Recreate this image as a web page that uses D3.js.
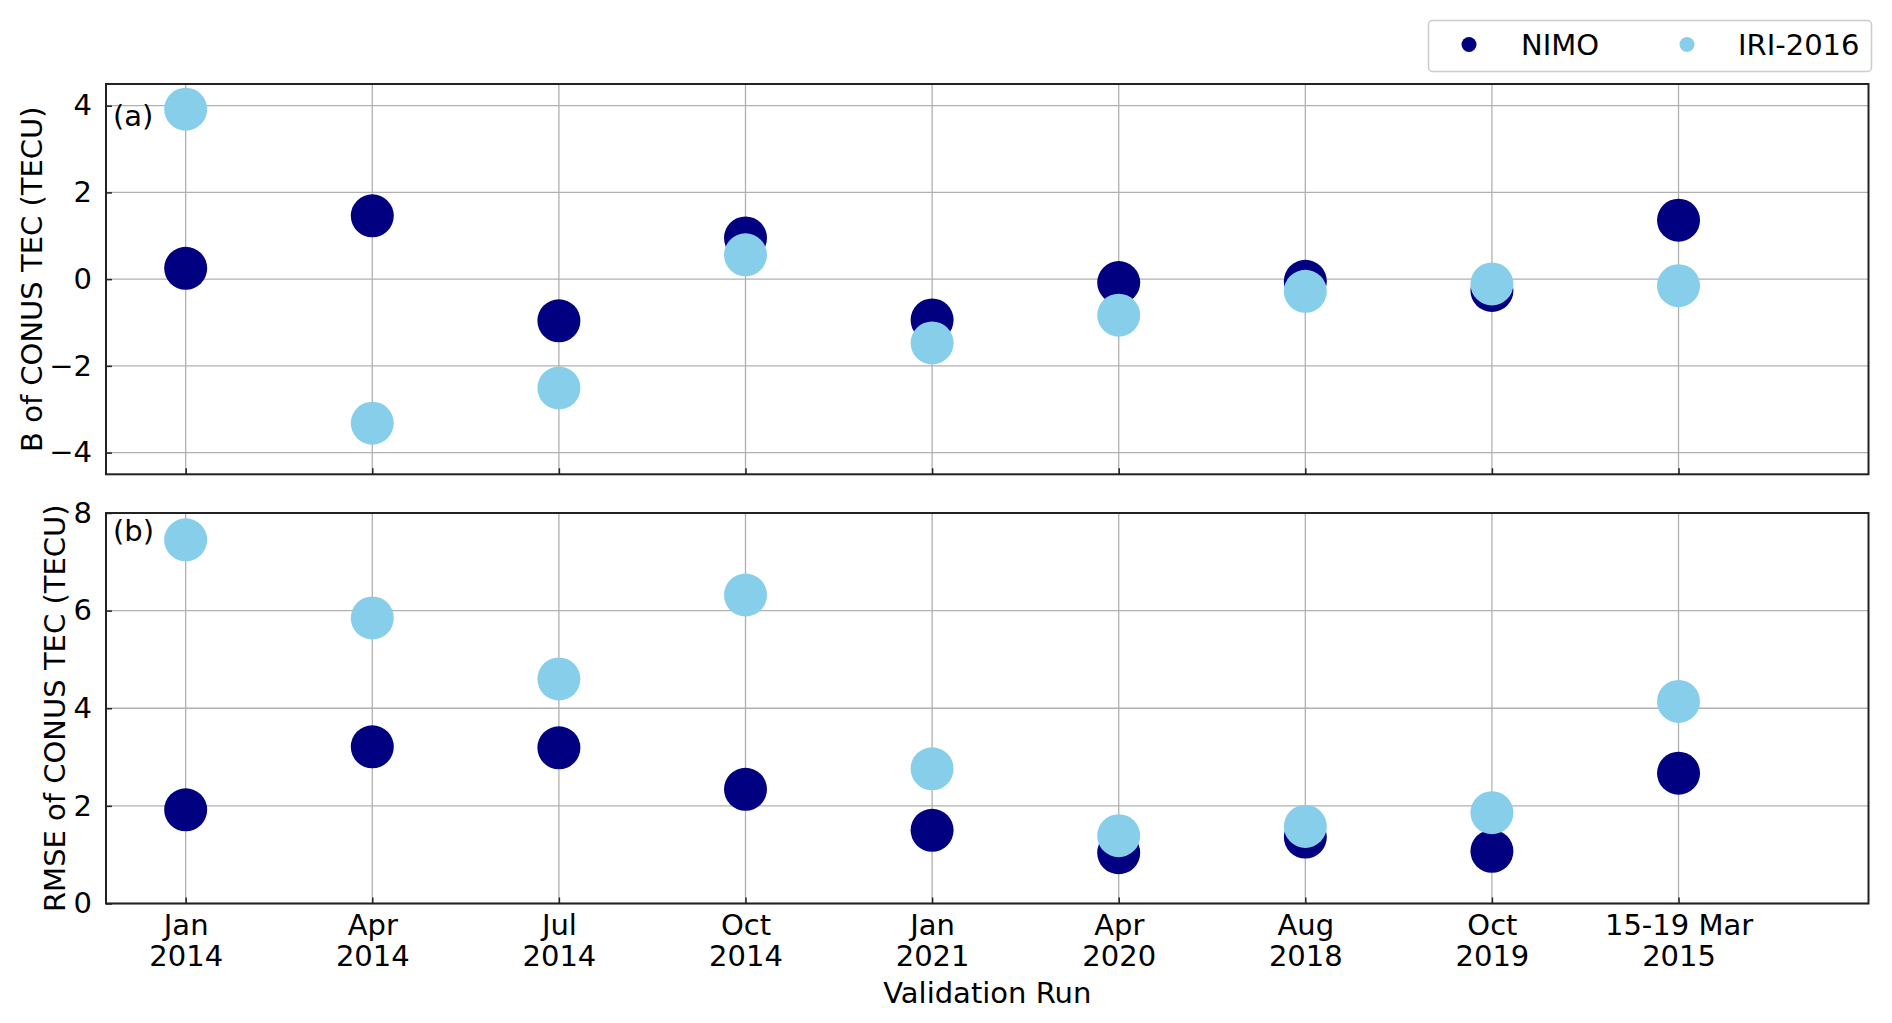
<!DOCTYPE html>
<html>
<head>
<meta charset="utf-8">
<script src="https://cdn.jsdelivr.net/npm/d3@7"></script>
<style>
  html, body { margin: 0; padding: 0; background: #fff; }
  svg { display: block; }
  text { font-family: "DejaVu Sans", sans-serif; fill: #000; }
</style>
</head>
<body>
<svg id="chart" width="1892" height="1023"></svg>
<script>
// ---- data ----
const runsLine1 = ["Jan", "Apr", "Jul", "Oct", "Jan", "Apr", "Aug", "Oct", "15-19 Mar"];
const runsLine2 = ["2014", "2014", "2014", "2014", "2021", "2020", "2018", "2019", "2015"];
const biasNIMO = [0.25, 1.46, -0.96, 0.95, -0.94, -0.08, -0.05, -0.26, 1.36];
const biasIRI  = [3.92, -3.32, -2.51, 0.56, -1.47, -0.83, -0.28, -0.11, -0.15];
const rmseNIMO = [1.92, 3.21, 3.19, 2.34, 1.50, 1.04, 1.36, 1.07, 2.67];
const rmseIRI  = [7.45, 5.85, 4.60, 6.32, 2.76, 1.39, 1.58, 1.86, 4.14];
const biasTicks = [-4, -2, 0, 2, 4];
const rmseTicks = [0, 2, 4, 6, 8];
const seriesNames = ["NIMO", "IRI-2016"];
const seriesColors = ["#000080", "#87CEEB"];

// ---- layout ----
const svg = d3.select("#chart");
const left = 106, right = 1868.5;
const FS = 29;
const x = d3.scaleLinear().domain([-0.427, 9.018]).range([left, right]);

const panels = [
  { top: 84, bottom: 474.3, domain: [-4.5, 4.5], ticks: biasTicks, nimo: biasNIMO, iri: biasIRI,
    label: "B of CONUS TEC (TECU)", labelX: 42, tag: "(a)", tagY: 126, xlabels: false },
  { top: 513, bottom: 903.5, domain: [0, 8], ticks: rmseTicks, nimo: rmseNIMO, iri: rmseIRI,
    label: "RMSE of CONUS TEC (TECU)", labelX: 65, tag: "(b)", tagY: 541, xlabels: true }
];

panels.forEach(p => {
  const y = d3.scaleLinear().domain(p.domain).range([p.bottom, p.top]);
  const g = svg.append("g");

  // grid
  g.append("g").selectAll("line.h").data(p.ticks).join("line")
    .attr("x1", left).attr("x2", right)
    .attr("y1", d => y(d)).attr("y2", d => y(d))
    .attr("stroke", "#b0b0b0").attr("stroke-width", 1.3);
  g.append("g").selectAll("line.v").data(runsLine1.map((_, i) => i)).join("line")
    .attr("x1", d => x(d)).attr("x2", d => x(d))
    .attr("y1", p.top).attr("y2", p.bottom)
    .attr("stroke", "#b0b0b0").attr("stroke-width", 1.3);

  // y axis (ticks inward)
  const yAxis = d3.axisLeft(y).tickValues(p.ticks).tickSizeInner(-6).tickSizeOuter(0)
    .tickPadding(14).tickFormat(d => d < 0 ? "\u2212" + Math.abs(d) : String(d));
  const ya = g.append("g").attr("transform", `translate(${left},0)`).call(yAxis);
  ya.select(".domain").remove();
  ya.selectAll("line").attr("stroke", "#222").attr("stroke-width", 1.5);
  ya.selectAll("text").attr("font-size", FS).attr("font-family", "DejaVu Sans").attr("fill", "#000");

  // x axis (ticks inward)
  const xAxis = d3.axisBottom(x).tickValues(runsLine1.map((_, i) => i)).tickSizeInner(-6)
    .tickSizeOuter(0).tickFormat("");
  const xa = g.append("g").attr("transform", `translate(0,${p.bottom})`).call(xAxis);
  xa.select(".domain").remove();
  xa.selectAll("line").attr("stroke", "#222").attr("stroke-width", 1.5);
  if (p.xlabels) {
    xa.selectAll(".tick").each(function(d) {
      const t = d3.select(this).append("text")
        .attr("text-anchor", "middle").attr("font-size", FS).attr("fill", "#000");
      t.append("tspan").attr("x", 0).attr("y", 31).text(runsLine1[d]);
      t.append("tspan").attr("x", 0).attr("y", 62).text(runsLine2[d]);
    });
  }

  // points: NIMO first, IRI on top
  [p.nimo, p.iri].forEach((vals, si) => {
    g.append("g").selectAll("circle").data(vals).join("circle")
      .attr("cx", (d, i) => x(i)).attr("cy", d => y(d)).attr("r", 21.5)
      .attr("fill", seriesColors[si]);
  });

  // frame
  g.append("rect").attr("x", left).attr("y", p.top)
    .attr("width", right - left).attr("height", p.bottom - p.top)
    .attr("fill", "none").attr("stroke", "#222").attr("stroke-width", 2);

  // panel tag
  g.append("text").attr("x", left + 7).attr("y", p.tagY).attr("font-size", FS).text(p.tag);

  // y label
  g.append("text")
    .attr("transform", `translate(${p.labelX},${(p.top + p.bottom) / 2}) rotate(-90)`)
    .attr("text-anchor", "middle").attr("font-size", FS).text(p.label);
});

// x label
svg.append("text").attr("x", (left + right) / 2).attr("y", 1003)
  .attr("text-anchor", "middle").attr("font-size", FS).text("Validation Run");

// legend
const lg = svg.append("g");
lg.append("rect").attr("x", 1428.5).attr("y", 20.5).attr("width", 443).attr("height", 51)
  .attr("rx", 4).attr("fill", "#fff").attr("stroke", "#cccccc").attr("stroke-width", 1.5);
const legX = [1469, 1687];
const legTextX = [1521, 1738];
seriesNames.forEach((n, i) => {
  lg.append("circle").attr("cx", legX[i]).attr("cy", 44.5).attr("r", 7.5).attr("fill", seriesColors[i]);
  lg.append("text").attr("x", legTextX[i]).attr("y", 54.5).attr("font-size", FS).text(n);
});
</script>
</body>
</html>
